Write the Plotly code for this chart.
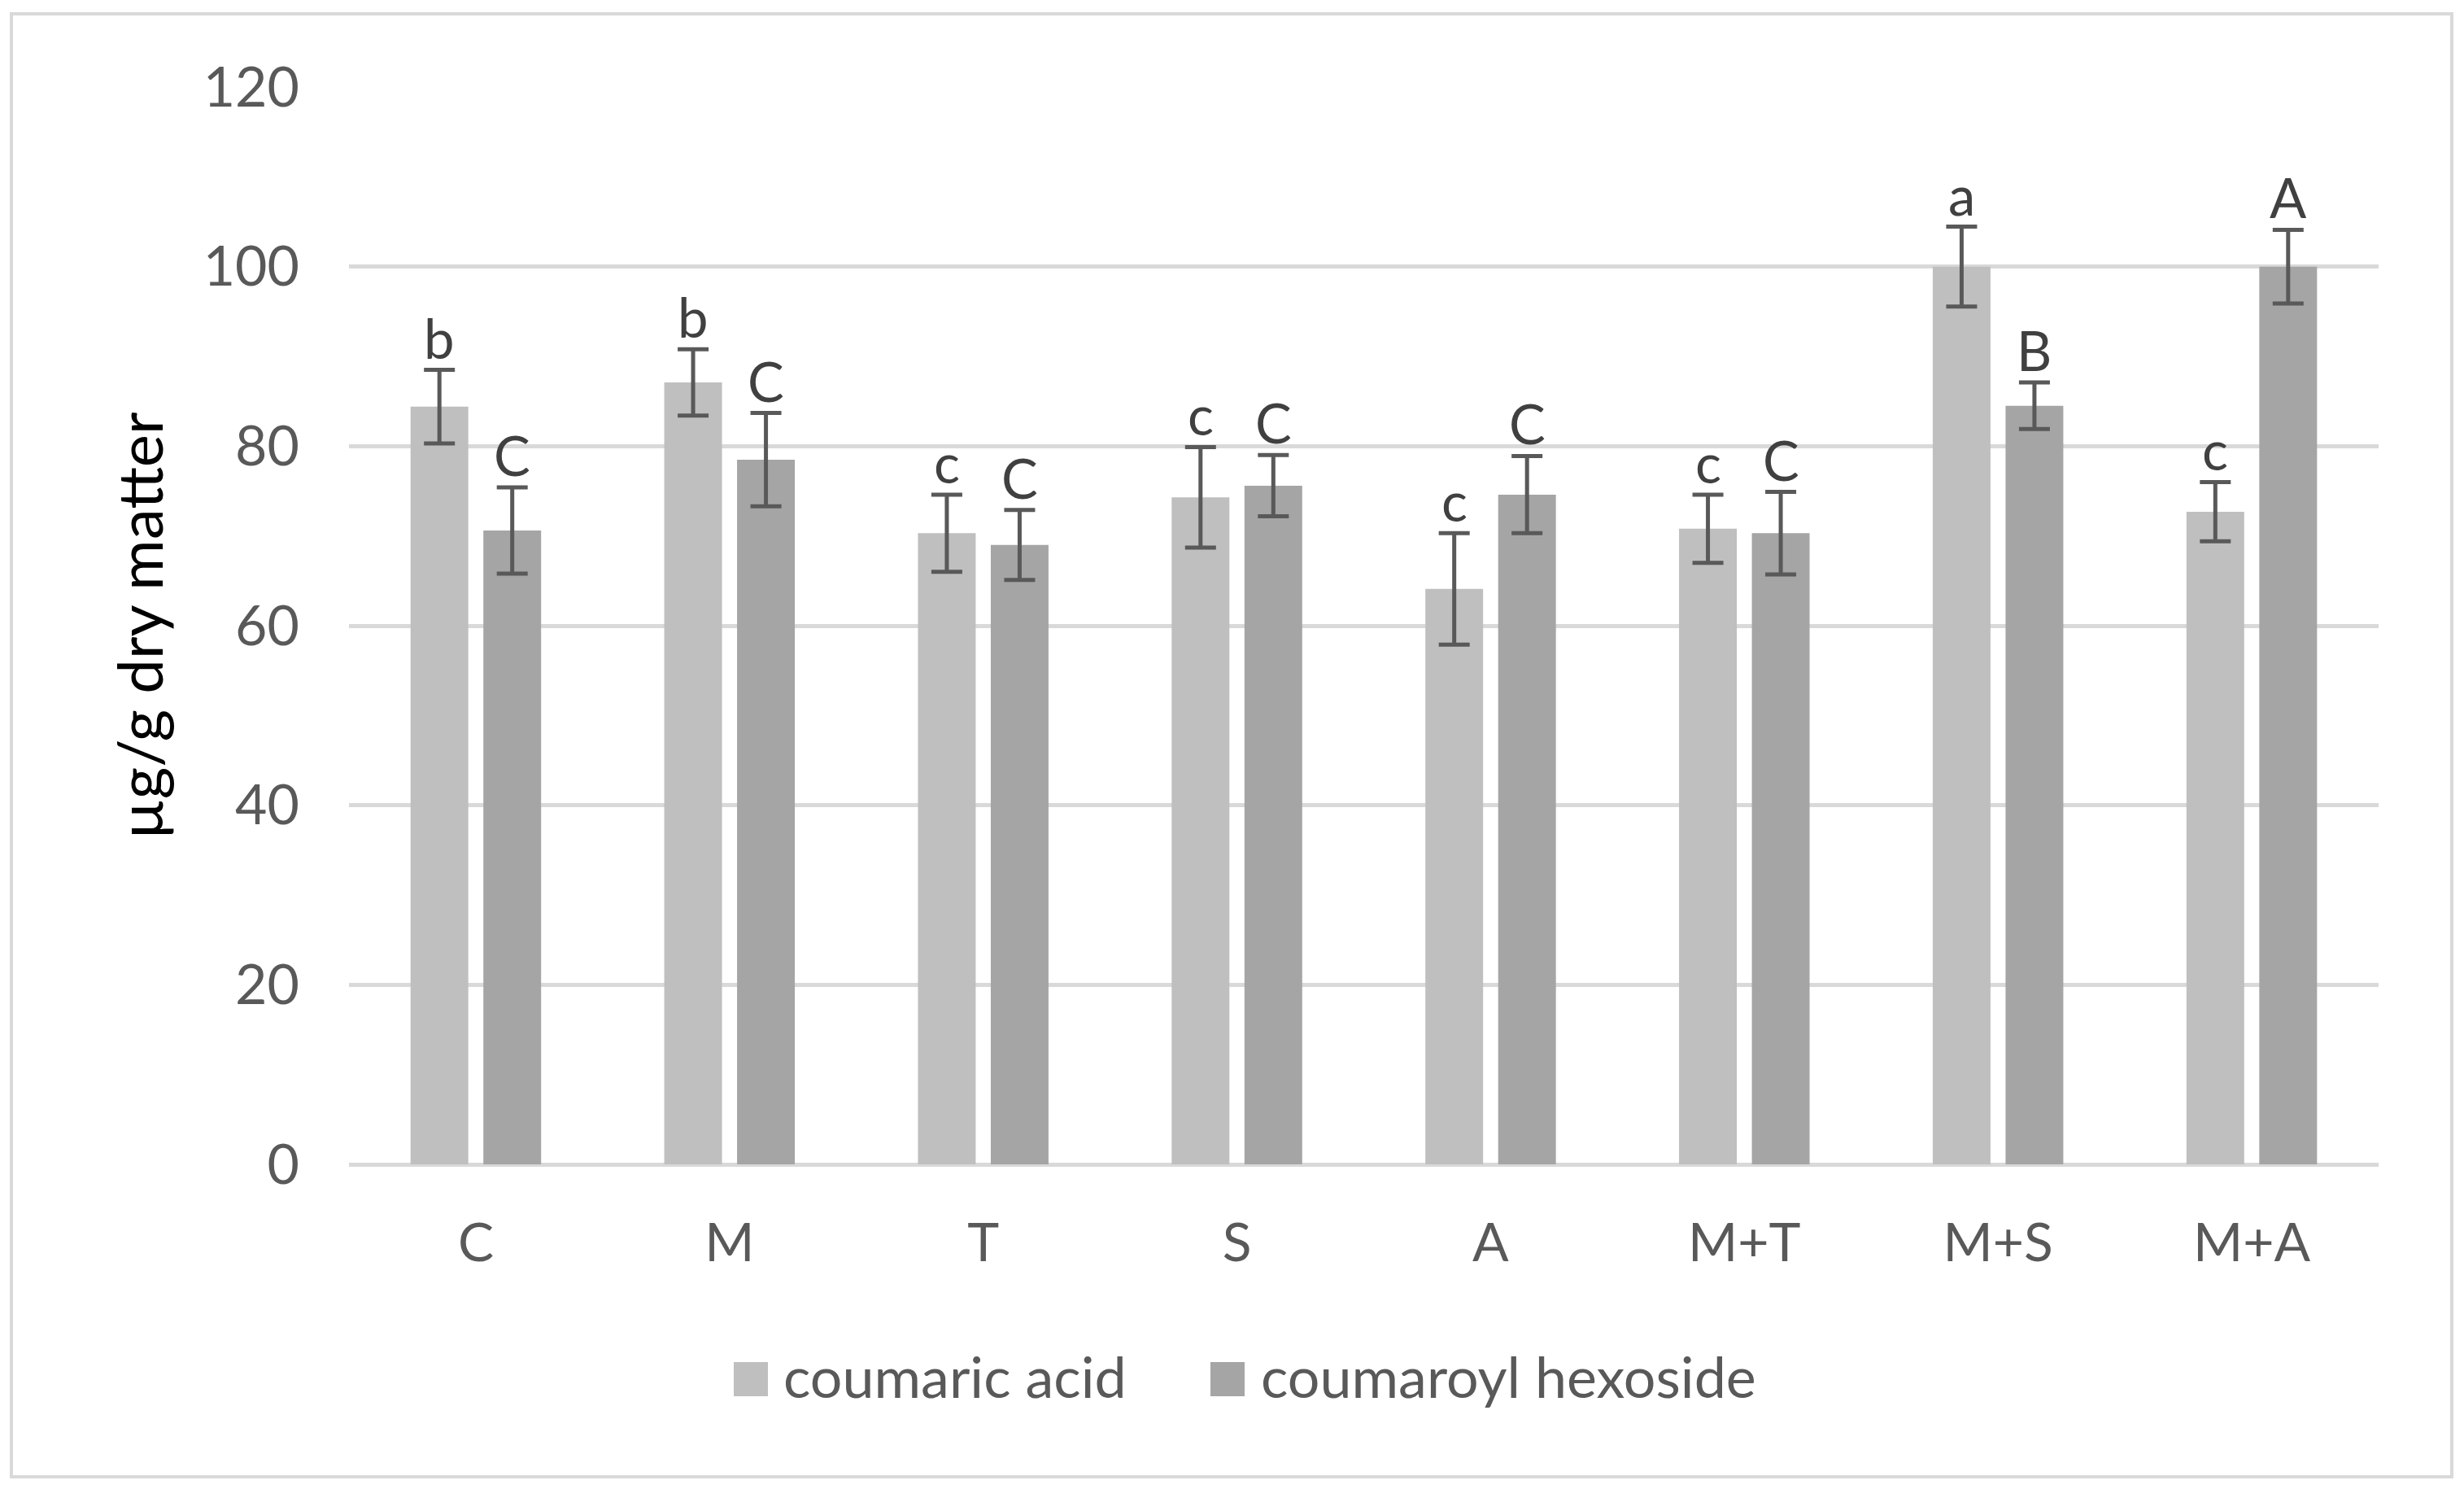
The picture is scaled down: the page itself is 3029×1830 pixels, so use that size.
import plotly.graph_objects as go

# ---------------- data ----------------
categories = ["C", "M", "T", "S", "A", "M+T", "M+S", "M+A"]
series_names = ["coumaric acid", "coumaroyl hexoside"]
coumaric_acid = [84.4, 87.1, 70.3, 74.3, 64.1, 70.8, 100.0, 72.7]
coumaric_acid_err = [4.1, 3.7, 4.3, 5.6, 6.2, 3.8, 4.45, 3.3]
coumaroyl_hexoside = [70.6, 78.5, 69.0, 75.6, 74.6, 70.3, 84.5, 100.0]
coumaroyl_hexoside_err = [4.8, 5.2, 3.9, 3.4, 4.3, 4.6, 2.6, 4.1]
letters_acid = ["b", "b", "c", "c", "c", "c", "a", "c"]
letters_hexoside = ["C", "C", "C", "C", "C", "C", "B", "A"]
y_ticks = [0, 20, 40, 60, 80, 100, 120]
y_title = "µg/g dry matter"

# ---------------- style ----------------
OFF = 8  # page body margin
W, H = 3029 - OFF, 1830 - OFF
ML, MR, MT, MB = 429 - OFF, 105, 107 - OFF, 399
FONT = "Lato"
C_ACID = "#bfbfbf"
C_HEX = "#a5a5a5"
C_ERR = "#595959"
C_GRID = "#d9d9d9"
C_TEXT = "#595959"
BARGAP = 0.426
BARGROUPGAP = 0.207

pw = W - ML - MR
ph = H - MT - MB


def px_x(px):
    return (px - OFF - ML) / pw


def px_y(py):
    return (H - MB - (py - OFF)) / ph


fig = go.Figure()
for name, vals, errs, color in [
    (series_names[0], coumaric_acid, coumaric_acid_err, C_ACID),
    (series_names[1], coumaroyl_hexoside, coumaroyl_hexoside_err, C_HEX),
]:
    fig.add_trace(go.Bar(
        name=name, x=categories, y=vals,
        marker=dict(color=color, line=dict(width=0)),
        error_y=dict(type="data", array=errs, visible=True,
                     color=C_ERR, thickness=5, width=19),
        showlegend=False,
    ))

annotations = []
offset = (1 - BARGAP) / 4
for i in range(len(categories)):
    for vals, errs, lets, sgn in [
        (coumaric_acid, coumaric_acid_err, letters_acid, -1),
        (coumaroyl_hexoside, coumaroyl_hexoside_err, letters_hexoside, 1),
    ]:
        annotations.append(dict(
            x=i + sgn * offset, y=vals[i] + errs[i], xref="x", yref="y",
            text=lets[i], showarrow=False, yanchor="bottom", xanchor="center",
            yshift=-2, font=dict(family=FONT, size=67, color="#404040"),
        ))

# custom legend (large swatches)
shapes = []
legend_items = [
    (series_names[0], C_ACID, 902, 961),
    (series_names[1], C_HEX, 1488, 1548),
]
for name, color, sx, tx in legend_items:
    shapes.append(dict(type="rect", xref="paper", yref="paper",
                       x0=px_x(sx), x1=px_x(sx + 42), y0=px_y(1716), y1=px_y(1674),
                       fillcolor=color, line=dict(width=0)))
    annotations.append(dict(x=px_x(tx), y=px_y(1691), xref="paper", yref="paper",
                            text=name, showarrow=False, xanchor="left", yanchor="middle",
                            font=dict(family=FONT, size=70, color=C_TEXT)))

# outer chart border
shapes.append(dict(type="rect", xref="paper", yref="paper",
                   x0=px_x(14), x1=px_x(3014), y0=px_y(1815), y1=px_y(17),
                   line=dict(color=C_GRID, width=4), fillcolor="rgba(0,0,0,0)",
                   layer="below"))

fig.update_layout(
    width=W, height=H,
    margin=dict(l=ML, r=MR, t=MT, b=MB),
    paper_bgcolor="white", plot_bgcolor="white",
    barmode="group", bargap=BARGAP, bargroupgap=BARGROUPGAP,
    font=dict(family=FONT, size=66, color=C_TEXT),
    annotations=annotations, shapes=shapes,
    showlegend=False,
)
fig.update_xaxes(
    type="category", showgrid=False, showline=False, zeroline=False, ticks="",
    tickfont=dict(family=FONT, size=66, color=C_TEXT),
    ticklabelstandoff=52,
)
fig.update_yaxes(
    range=[0, 120], tickvals=y_ticks, ticktext=[str(t) for t in y_ticks],
    showgrid=True, gridcolor=C_GRID, gridwidth=5,
    zeroline=True, zerolinecolor=C_GRID, zerolinewidth=5,
    showline=False, ticks="",
    tickfont=dict(family=FONT, size=68, color=C_TEXT),
    ticklabelstandoff=60,
    title=dict(text=y_title, font=dict(family=FONT, size=76, color="black"), standoff=24),
)

fig.write_html("out.html")
